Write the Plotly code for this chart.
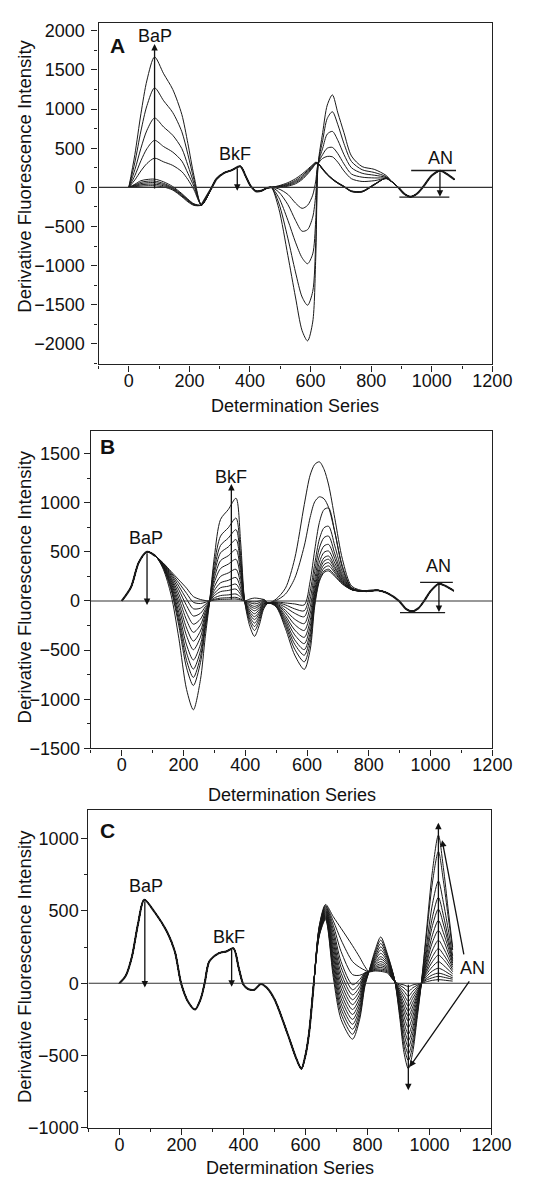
import plotly.graph_objects as go

W, H = 540, 1178
FONT = "Liberation Sans, Arial, sans-serif"
LC = "#1a1a1a"

# ---------------- Panel A ----------------
A_X_HEAD = [0, 20, 40, 60, 85, 115, 145, 175, 195, 215]
A_HEAD = [
    [0, 420, 940, 1370, 1665, 1450, 1250, 930, 560, 150],
    [0, 320, 720, 1045, 1270, 1105, 955, 710, 420, 100],
    [0, 225, 500, 730, 885, 770, 665, 495, 280, 50],
    [0, 150, 340, 495, 600, 520, 450, 335, 180, 10],
    [0, 95, 210, 305, 372, 325, 280, 200, 100, -30],
    [0, 40, 85, 100, 105, 70, 10, -80, -150, -210],
    [0, 30, 65, 78, 80, 50, -5, -90, -160, -215],
    [0, 22, 48, 58, 60, 35, -15, -100, -165, -220],
    [0, 15, 32, 40, 40, 20, -25, -110, -175, -225],
    [0, 8, 16, 20, 20, 5, -35, -120, -185, -230],
]
A_X_MID = [240, 272, 290, 315, 340, 368, 385, 400, 420, 440, 455, 470]
A_MID = [-225, -15, 110, 185, 220, 268, 150, 30, -50, -40, -10, 0]
A_X_BODY = [495, 525, 550, 572, 590, 607, 617, 625, 640, 655, 672, 690, 710, 735, 770, 810, 850, 870]
A_BODY = [
    [-270, -870, -1400, -1830, -1960, -1720, -900, 300, 700, 1050, 1180, 950, 700, 400, 265, 230, 150, 65],
    [-200, -650, -1080, -1400, -1505, -1330, -700, 300, 600, 880, 965, 800, 560, 330, 225, 190, 135, 65],
    [-130, -420, -700, -900, -975, -850, -420, 300, 500, 680, 714, 600, 420, 250, 180, 155, 125, 65],
    [-60, -220, -420, -560, -540, -380, -100, 300, 420, 500, 510, 430, 300, 170, 130, 120, 115, 65],
    [-20, -90, -200, -268, -230, -100, 80, 300, 370, 395, 390, 320, 210, 110, 75, 85, 110, 65],
    [20, 60, 110, 170, 230, 290, 320, 310, 240, 170, 110, 60, 15, -45, -50, 40, 115, 65],
    [15, 45, 90, 150, 215, 280, 315, 305, 235, 168, 108, 58, 12, -48, -52, 38, 116, 65],
    [10, 35, 75, 130, 200, 270, 310, 300, 230, 165, 105, 55, 10, -50, -55, 35, 117, 65],
    [5, 25, 60, 115, 185, 260, 305, 300, 228, 162, 102, 52, 8, -52, -57, 32, 118, 65],
    [0, 15, 45, 100, 170, 250, 300, 300, 225, 160, 100, 50, 5, -55, -60, 30, 120, 65],
]
A_X_TAIL = [890, 910, 930, 950, 970, 1000, 1027, 1050, 1075]
A_TAIL = [0, -85, -120, -85, 0, 150, 212, 170, 100]

# ---------------- Panel B ----------------
B_X_HEAD = [0, 30, 55, 82, 110]
B_HEAD = [0, 140, 390, 500, 455]
B_X_DIP = [135, 160, 185, 210, 232, 255, 270, 285]
B_DIP = [
    [320, 60, -380, -900, -1107, -800, -380, 0],
    [334, 111, -253, -680, -860, -626, -298, 0],
    [339, 129, -210, -605, -778, -567, -270, 0],
    [343, 146, -166, -530, -693, -507, -242, 0],
    [349, 166, -118, -447, -600, -441, -211, 0],
    [354, 187, -65, -354, -496, -368, -176, 0],
    [359, 206, -19, -275, -408, -305, -146, 0],
    [364, 224, 27, -195, -319, -243, -117, 0],
    [369, 241, 70, -121, -236, -184, -89, 0],
    [374, 259, 113, -47, -153, -125, -61, 0],
    [378, 274, 151, 19, -79, -73, -37, 0],
    [382, 288, 185, 78, -13, -26, -14, 0],
    [385, 300, 215, 130, 45, 15, 5, 0],
]
B_X_BKF = [300, 320, 345, 370, 385, 398]
B_BKF = [
    [450, 830, 930, 1046, 600, 0],
    [380, 660, 745, 844, 465, 0],
    [325, 565, 640, 726, 400, 0],
    [280, 490, 550, 625, 345, 0],
    [235, 410, 460, 524, 290, 0],
    [190, 330, 375, 424, 235, 0],
    [145, 250, 285, 323, 180, 0],
    [108, 185, 210, 239, 130, 0],
    [77, 135, 150, 172, 95, 0],
    [55, 95, 107, 121, 67, 0],
    [32, 55, 62, 71, 40, 0],
    [17, 29, 33, 37, 20, 0],
    [9, 16, 18, 20, 11, 0],
]
B_X_MID = [415, 430, 445, 460, 475]
B_MID = [
    [-260, -360, -250, -80, -20],
    [-215, -300, -210, -65, -20],
    [-185, -260, -180, -55, -20],
    [-160, -225, -155, -45, -20],
    [-135, -190, -130, -35, -20],
    [-112, -160, -110, -28, -20],
    [-90, -130, -88, -20, -20],
    [-68, -100, -68, -12, -20],
    [-50, -75, -50, -5, -20],
    [-35, -55, -35, 0, -20],
    [-18, -30, -18, 8, -20],
    [-5, -10, 0, 15, -20],
    [20, 30, 25, 15, -20],
]
B_X_BODY = [500, 530, 560, 591, 610, 625, 640, 655, 670, 690, 715, 745]
B_BODY = [
    [-60, -280, -550, -696, -500, -50, 200, 290, 306, 250, 170, 115],
    [-55, -250, -490, -619, -430, -20, 215, 305, 323, 262, 175, 115],
    [-50, -225, -440, -552, -370, 10, 240, 335, 357, 285, 185, 115],
    [-45, -200, -395, -495, -320, 40, 270, 370, 390, 305, 190, 115],
    [-40, -175, -345, -434, -260, 75, 305, 405, 424, 330, 200, 115],
    [-35, -150, -295, -370, -200, 110, 340, 440, 457, 350, 210, 115],
    [-30, -120, -240, -300, -130, 160, 395, 495, 508, 385, 225, 118],
    [-25, -95, -185, -230, -60, 220, 460, 560, 575, 430, 240, 120],
    [-20, -65, -125, -160, 20, 300, 540, 645, 660, 480, 260, 122],
    [-15, -40, -80, -100, 100, 380, 630, 745, 760, 560, 290, 125],
    [-10, -20, -30, -40, 200, 520, 800, 930, 945, 700, 330, 130],
    [5, 70, 230, 560, 850, 1010, 1060, 1040, 950, 700, 350, 135],
    [20, 130, 430, 980, 1280, 1390, 1416, 1340, 1180, 840, 420, 150],
]
B_X_TAIL = [790, 830, 860, 898, 920, 940, 960, 979, 1000, 1027, 1050, 1075]
B_TAIL = [100, 108, 80, 0, -80, -105, -75, 0, 100, 175, 150, 104]

# ---------------- Panel C ----------------
C_X_HEAD = [0, 20, 40, 60, 80, 114, 154, 179, 199, 222, 244, 262, 275, 290, 320, 345, 368, 385,
            400, 415, 435, 456, 475, 501, 541, 571, 587, 600, 612, 627]
C_HEAD = [0, 50, 180, 410, 577, 491, 354, 218, 0, -130, -182, -110, 0, 150, 207, 220, 241, 105,
          -9, -40, -45, -5, -30, -114, -341, -523, -591, -500, -341, 0]
C_X_BODY = [645, 665, 690, 715, 752, 775, 792, 805, 825, 843, 865, 888, 905, 918, 932, 946, 960,
            974, 990, 1010, 1029, 1045, 1060, 1075]
C_BODY = [
    [330, 440, 40, -250, -387, -250, -20, 80, 230, 320, 200, 20, -250, -480, -591, -480, -250, 0, 350, 780, 1025, 800, 520, 250],
    [335, 448, 70, -210, -353, -225, -10, 80, 215, 298, 190, 20, -225, -435, -535, -435, -225, 0, 320, 700, 912, 710, 470, 230],
    [340, 455, 100, -175, -318, -200, 0, 80, 200, 275, 180, 20, -205, -395, -489, -395, -205, 0, 250, 550, 707, 560, 380, 190],
    [345, 462, 130, -140, -284, -175, 10, 80, 185, 252, 170, 20, -180, -350, -443, -350, -180, 0, 210, 460, 594, 470, 320, 170],
    [350, 470, 160, -105, -250, -150, 20, 80, 172, 230, 160, 20, -160, -310, -398, -310, -160, 0, 180, 400, 513, 410, 285, 155],
    [355, 477, 190, -70, -216, -125, 30, 80, 160, 207, 148, 18, -140, -270, -353, -270, -140, 0, 150, 335, 434, 350, 250, 140],
    [360, 485, 220, -35, -182, -100, 40, 80, 148, 184, 138, 18, -120, -230, -307, -230, -120, 0, 130, 285, 365, 300, 215, 125],
    [365, 492, 250, 0, -148, -75, 50, 80, 138, 168, 128, 16, -100, -195, -262, -195, -100, 0, 110, 230, 297, 245, 180, 110],
    [370, 500, 280, 35, -114, -50, 58, 80, 128, 150, 118, 15, -85, -165, -228, -165, -85, 0, 90, 185, 240, 200, 150, 95],
    [375, 507, 310, 70, -80, -25, 65, 80, 118, 134, 108, 14, -70, -135, -193, -135, -70, 0, 75, 150, 195, 165, 125, 80],
    [380, 515, 340, 110, -45, 0, 70, 80, 110, 121, 100, 13, -55, -105, -159, -105, -55, 0, 60, 115, 149, 125, 95, 65],
    [385, 522, 370, 150, -10, 25, 75, 80, 102, 109, 92, 12, -40, -80, -125, -80, -40, 0, 45, 85, 104, 90, 70, 50],
    [390, 530, 400, 220, 60, 55, 70, 80, 96, 98, 85, 11, -28, -55, -91, -55, -28, 0, 32, 58, 70, 62, 50, 38],
    [395, 537, 430, 300, 150, 110, 90, 80, 90, 89, 78, 10, -15, -32, -57, -32, -15, 0, 22, 38, 48, 42, 35, 28],
    [400, 545, 460, 380, 260, 180, 115, 80, 85, 82, 70, 10, -5, -12, -23, -12, -5, 0, 10, 20, 25, 22, 18, 15],
]

X_TICKS = [0, 200, 400, 600, 800, 1000, 1200]
A_YTICKS = [-2000, -1500, -1000, -500, 0, 500, 1000, 1500, 2000]
B_YTICKS = [-1500, -1000, -500, 0, 500, 1000, 1500]
C_YTICKS = [-1000, -500, 0, 500, 1000]

fig = go.Figure()


def line(x, y, ax, w=1.0):
    fig.add_trace(go.Scatter(
        x=x, y=y, mode="lines", xaxis="x" + ax, yaxis="y" + ax,
        line=dict(color=LC, width=w, shape="spline", smoothing=0.8),
        hoverinfo="skip", showlegend=False))


# Panel A curves
for i in range(len(A_HEAD)):
    line(A_X_HEAD + A_X_MID + A_X_BODY + A_X_TAIL,
         A_HEAD[i] + A_MID + A_BODY[i] + A_TAIL, "")
line(A_X_MID, A_MID, "", 2.0)
line(A_X_TAIL, A_TAIL, "", 2.0)

# Panel B curves
for i in range(len(B_DIP)):
    line(B_X_HEAD + B_X_DIP + [285] + B_X_BKF + B_X_MID + B_X_BODY + B_X_TAIL,
         B_HEAD + B_DIP[i] + [0] + B_BKF[i] + B_MID[i] + B_BODY[i] + B_TAIL, "2")
line(B_X_HEAD, B_HEAD, "2", 2.0)
line(B_X_TAIL, B_TAIL, "2", 2.0)

# Panel C curves
for i in range(len(C_BODY)):
    line(C_X_HEAD + C_X_BODY, C_HEAD + C_BODY[i], "3")
line(C_X_HEAD, C_HEAD, "3", 2.0)


def px(v):
    return v / W


def py(v):
    return 1 - v / H


AXC = "#222"
TF = dict(family=FONT, size=18, color="#111")


def xaxis(dom, anchor):
    return dict(domain=dom, anchor=anchor, range=[-100, 1200], tickvals=X_TICKS,
                ticks="outside", ticklen=6, tickwidth=1.2, tickcolor=AXC,
                ticklabelstandoff=-6,
                minor=dict(ticks="outside", ticklen=3, dtick=100, tick0=0, tickcolor=AXC, tickwidth=1.1),
                showline=True, linecolor=AXC, linewidth=1.3, mirror=True,
                showgrid=False, zeroline=False, tickfont=TF)


def yaxis(dom, anchor, rng, tv, so):
    return dict(domain=dom, anchor=anchor, range=rng, tickvals=tv,
                ticks="outside", ticklen=6, tickwidth=1.2, tickcolor=AXC,
                ticklabelstandoff=so,
                minor=dict(ticks="outside", ticklen=3, dtick=250, tick0=0, tickcolor=AXC, tickwidth=1.1),
                showline=True, linecolor=AXC, linewidth=1.3, mirror=True,
                showgrid=False, zeroline=False, tickfont=TF)


fig.update_layout(
    width=W, height=H, margin=dict(l=0, r=0, t=0, b=0),
    paper_bgcolor="white", plot_bgcolor="white",
    xaxis=xaxis([px(94), px(503)], "y"),
    yaxis=yaxis([py(358), py(13)], "x", [-2260, 2100], A_YTICKS, 3),
    xaxis2=xaxis([px(86), px(503)], "y2"),
    yaxis2=yaxis([py(746), py(425)], "x2", [-1500, 1733], B_YTICKS, 0),
    xaxis3=xaxis([px(83.5), px(502)], "y3"),
    yaxis3=yaxis([py(1129.3), py(808)], "x3", [-1000, 1200], C_YTICKS, -1),
)

shapes = []
for ax in ["", "2", "3"]:
    shapes.append(dict(type="line", xref="x" + ax, yref="y" + ax, x0=-100, x1=1200, y0=0, y1=0,
                       line=dict(color="#333", width=1.1)))
# AN bars
shapes += [
    dict(type="line", xref="x", yref="y", x0=932, x1=1080, y0=215, y1=215, line=dict(color=LC, width=1.3)),
    dict(type="line", xref="x", yref="y", x0=893, x1=1058, y0=-125, y1=-125, line=dict(color=LC, width=1.3)),
    dict(type="line", xref="x2", yref="y2", x0=966, x1=1072, y0=189, y1=189, line=dict(color=LC, width=1.3)),
    dict(type="line", xref="x2", yref="y2", x0=901, x1=1047, y0=-118, y1=-118, line=dict(color=LC, width=1.3)),
]
fig.update_layout(shapes=shapes)

ann = []


def arrow(ax, hx, hy, tx, ty):
    ann.append(dict(x=hx, y=hy, ax=tx, ay=ty, xref="x" + ax, yref="y" + ax,
                    axref="x" + ax, ayref="y" + ax, showarrow=True, arrowhead=2,
                    arrowsize=1, arrowwidth=1.3, arrowcolor="#111", text=""))


def label(ax, x, y, t, size=18, bold=False):
    ann.append(dict(x=x, y=y, xref="x" + ax, yref="y" + ax, showarrow=False,
                    xanchor="center", yanchor="middle",
                    text=("<b>%s</b>" % t) if bold else t,
                    font=dict(family=FONT, size=size, color="#111")))


# Panel A annotations
arrow("", 85, 1830, 85, -35)
arrow("", 358, -45, 358, 262)
arrow("", 1027, -120, 1027, 212)
label("", 85, 1932, "BaP")
label("", 349, 420, "BkF")
label("", 1030, 379, "AN")
label("", -38, 1809, "A", 21, True)

# Panel B annotations
arrow("2", 82, -40, 82, 500)
arrow("2", 355, 1190, 355, 0)
arrow("2", 1027, -112, 1027, 189)
label("2", 80, 636, "BaP")
label("2", 355, 1265, "BkF")
label("2", 1024, 356, "AN")
label("2", -46, 1567, "B", 21, True)

# Panel C annotations
arrow("3", 82, -30, 82, 577)
arrow("3", 362, -25, 362, 240)
arrow("3", 1029, 1110, 1029, 0)
arrow("3", 932, -740, 932, 0)
arrow("3", 1041, 990, 1112, 190)
arrow("3", 936, -580, 1132, 23)
label("3", 86, 671, "BaP")
label("3", 355, 318, "BkF")
label("3", 1138, 102, "AN")
label("3", -38, 1057, "C", 21, True)

# Axis titles
for cy in [168, 583, 966.5]:
    ann.append(dict(x=px(17), y=py(cy), xref="paper", yref="paper", showarrow=False,
                    xanchor="center", yanchor="middle",
                    text="Derivative Fluorescence Intensity", textangle=-90,
                    font=dict(family=FONT, size=18.5, color="#111")))
for cx, cy in [(298.5, 400), (294.5, 793), (293, 1170)]:
    ann.append(dict(x=px(cx), y=py(cy), xref="paper", yref="paper", showarrow=False,
                    xanchor="center", yanchor="middle",
                    text="Determination Series",
                    font=dict(family=FONT, size=18, color="#111")))

fig.update_layout(annotations=ann)
fig.write_html("out.html")
